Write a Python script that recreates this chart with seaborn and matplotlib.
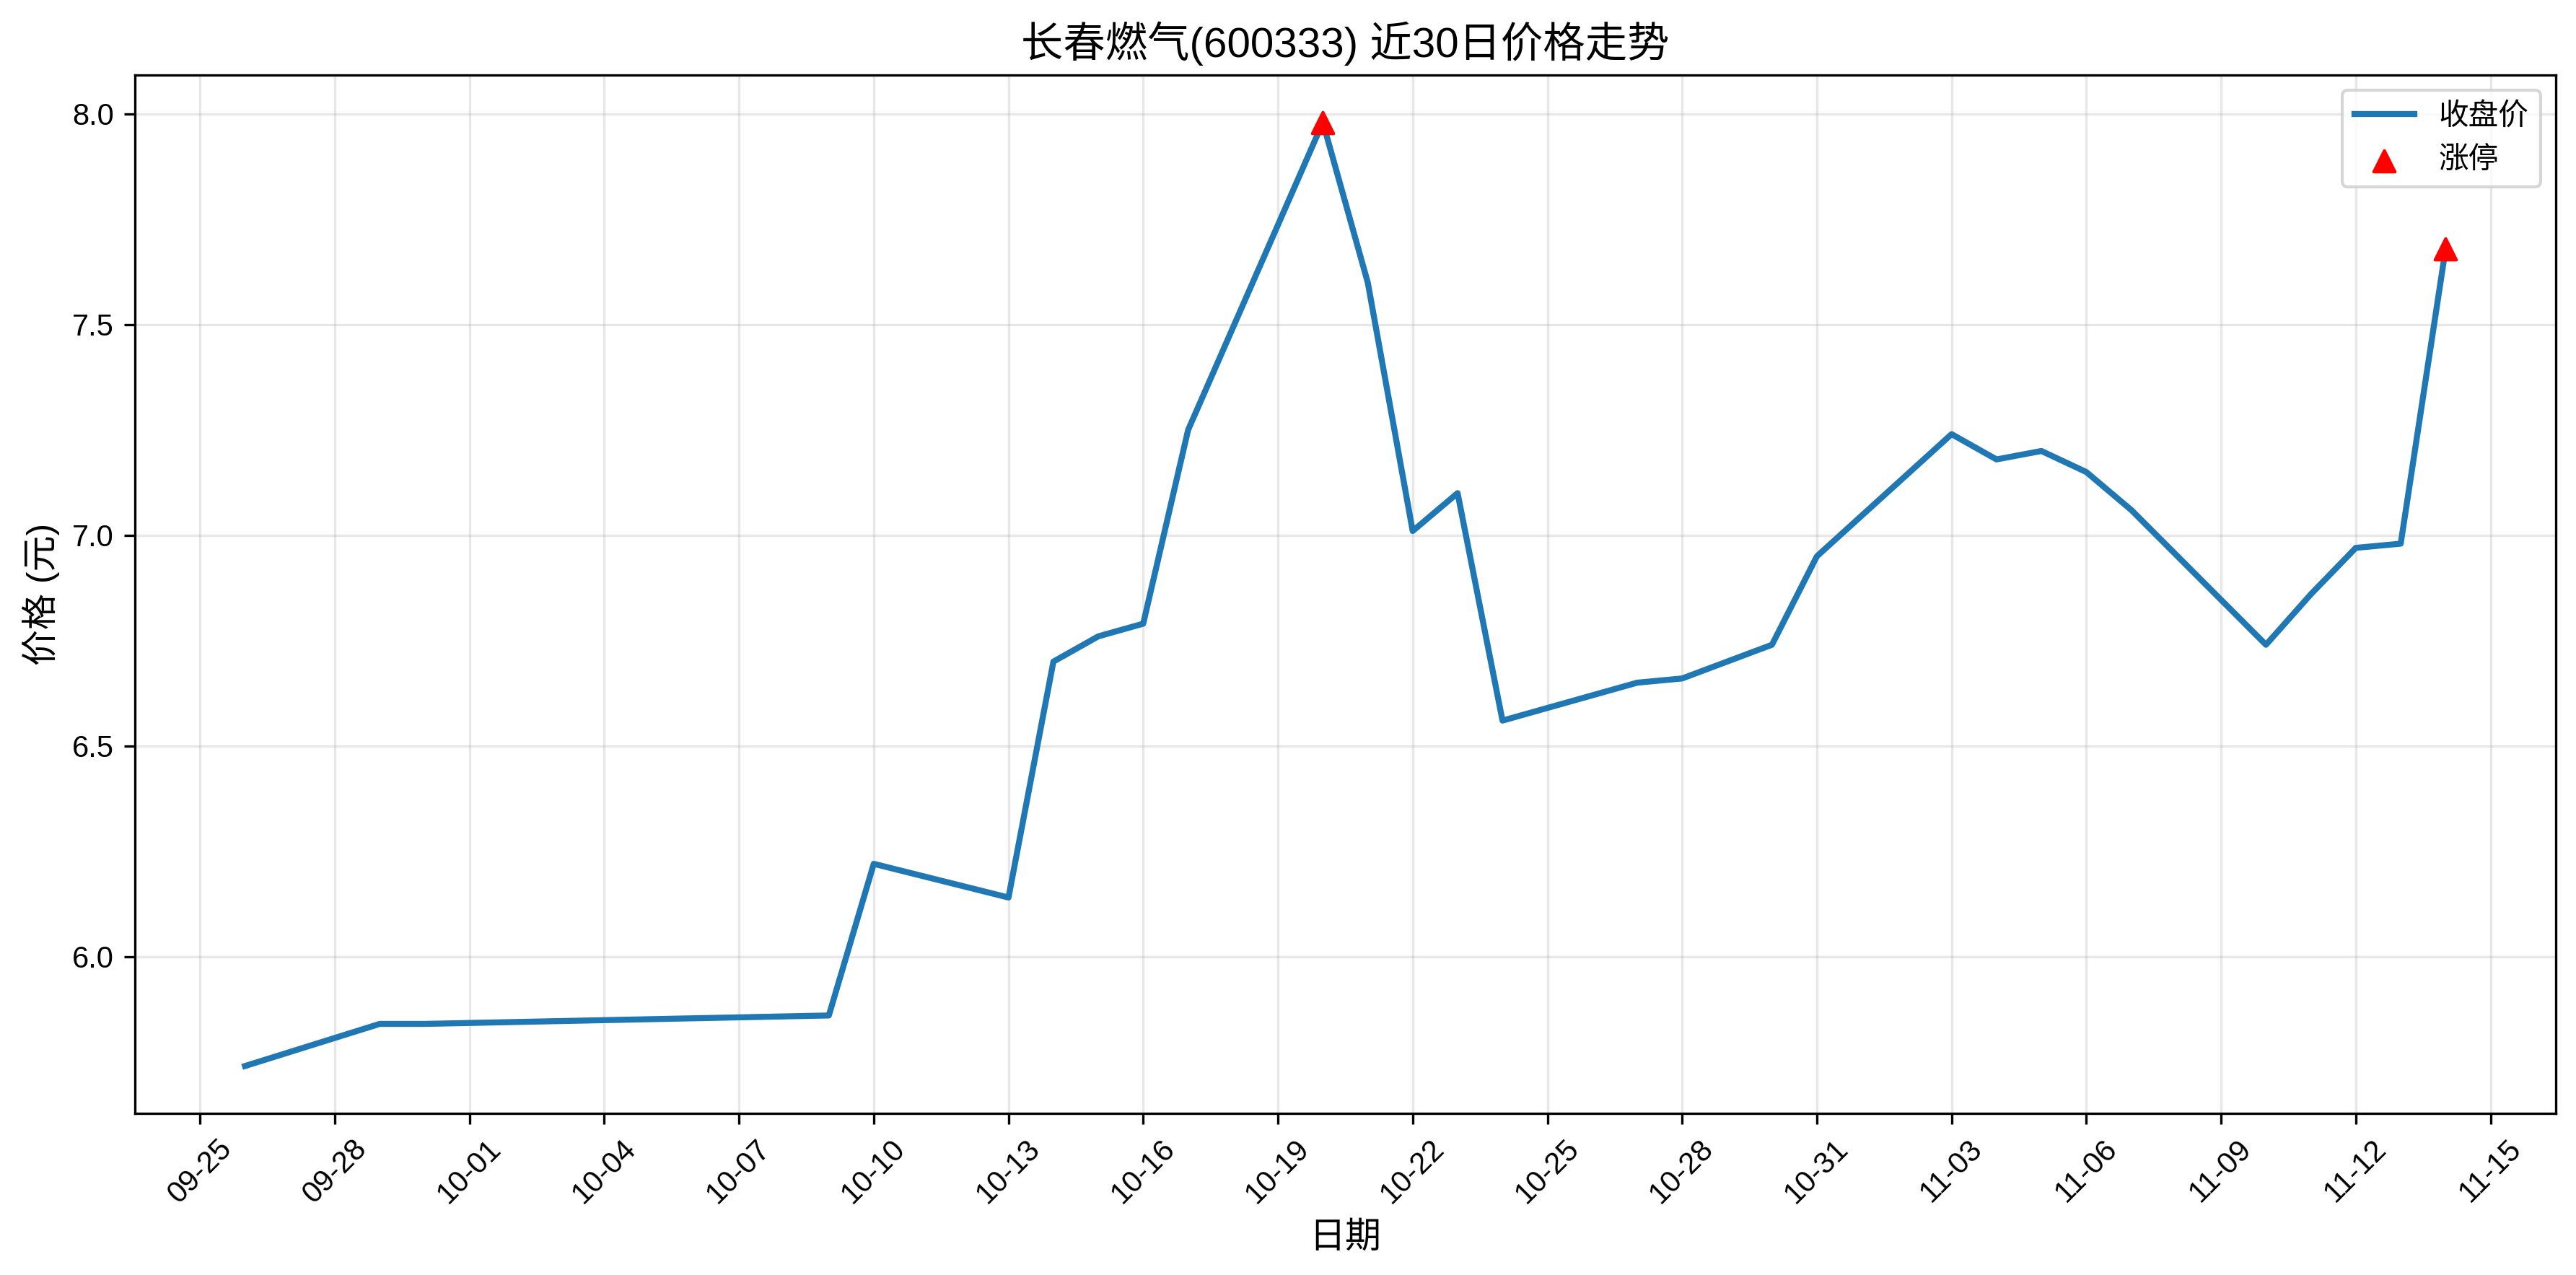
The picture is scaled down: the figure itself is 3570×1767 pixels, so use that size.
import matplotlib
matplotlib.use("Agg")
import matplotlib.pyplot as plt
import matplotlib.dates as mdates
import pandas as pd
import seaborn as sns

# 长春燃气 收盘价 (近30个交易日)
dates = [
    "2025-09-26", "2025-09-29", "2025-09-30", "2025-10-09", "2025-10-10",
    "2025-10-13", "2025-10-14", "2025-10-15", "2025-10-16", "2025-10-17",
    "2025-10-20", "2025-10-21", "2025-10-22", "2025-10-23", "2025-10-24",
    "2025-10-27", "2025-10-28", "2025-10-29", "2025-10-30", "2025-10-31",
    "2025-11-03", "2025-11-04", "2025-11-05", "2025-11-06", "2025-11-07",
    "2025-11-10", "2025-11-11", "2025-11-12", "2025-11-13", "2025-11-14",
]
close = [
    5.74, 5.84, 5.84, 5.86, 6.22,
    6.14, 6.70, 6.76, 6.79, 7.25,
    7.98, 7.60, 7.01, 7.10, 6.56,
    6.65, 6.66, 6.70, 6.74, 6.95,
    7.24, 7.18, 7.20, 7.15, 7.06,
    6.74, 6.86, 6.97, 6.98, 7.68,
]
limit_up_dates = ["2025-10-20", "2025-11-14"]
limit_up_close = [7.98, 7.68]

df = pd.DataFrame({"date": pd.to_datetime(dates), "close": close})
lu = pd.DataFrame({"date": pd.to_datetime(limit_up_dates), "close": limit_up_close})

plt.rcParams["font.family"] = ["Liberation Sans", "Noto Sans CJK SC", "DejaVu Sans"]
plt.rcParams["axes.unicode_minus"] = False

fig, ax = plt.subplots(figsize=(11.9, 5.89), dpi=300)
fig.subplots_adjust(left=0.0524, right=0.9921, bottom=0.1269, top=0.9410)

sns.lineplot(data=df, x="date", y="close", ax=ax, color="#1f77b4",
             linewidth=2, label="收盘价")
sns.scatterplot(data=lu, x="date", y="close", ax=ax, color="red", marker="^",
                s=50, edgecolor="red", linewidth=1, zorder=5, label="涨停")

ax.set_title("长春燃气(600333) 近30日价格走势", fontsize=14)
ax.set_xlabel("日期", fontsize=12)
ax.set_ylabel("价格 (元)", fontsize=12)
ax.xaxis.set_major_locator(mdates.DayLocator(interval=3))
ax.xaxis.set_major_formatter(mdates.DateFormatter("%m-%d"))
plt.setp(ax.get_xticklabels(), rotation=45)
ax.grid(True, alpha=0.3)
ax.legend(loc="upper right")

fig.savefig("out.png", dpi=300)
plt.close(fig)
